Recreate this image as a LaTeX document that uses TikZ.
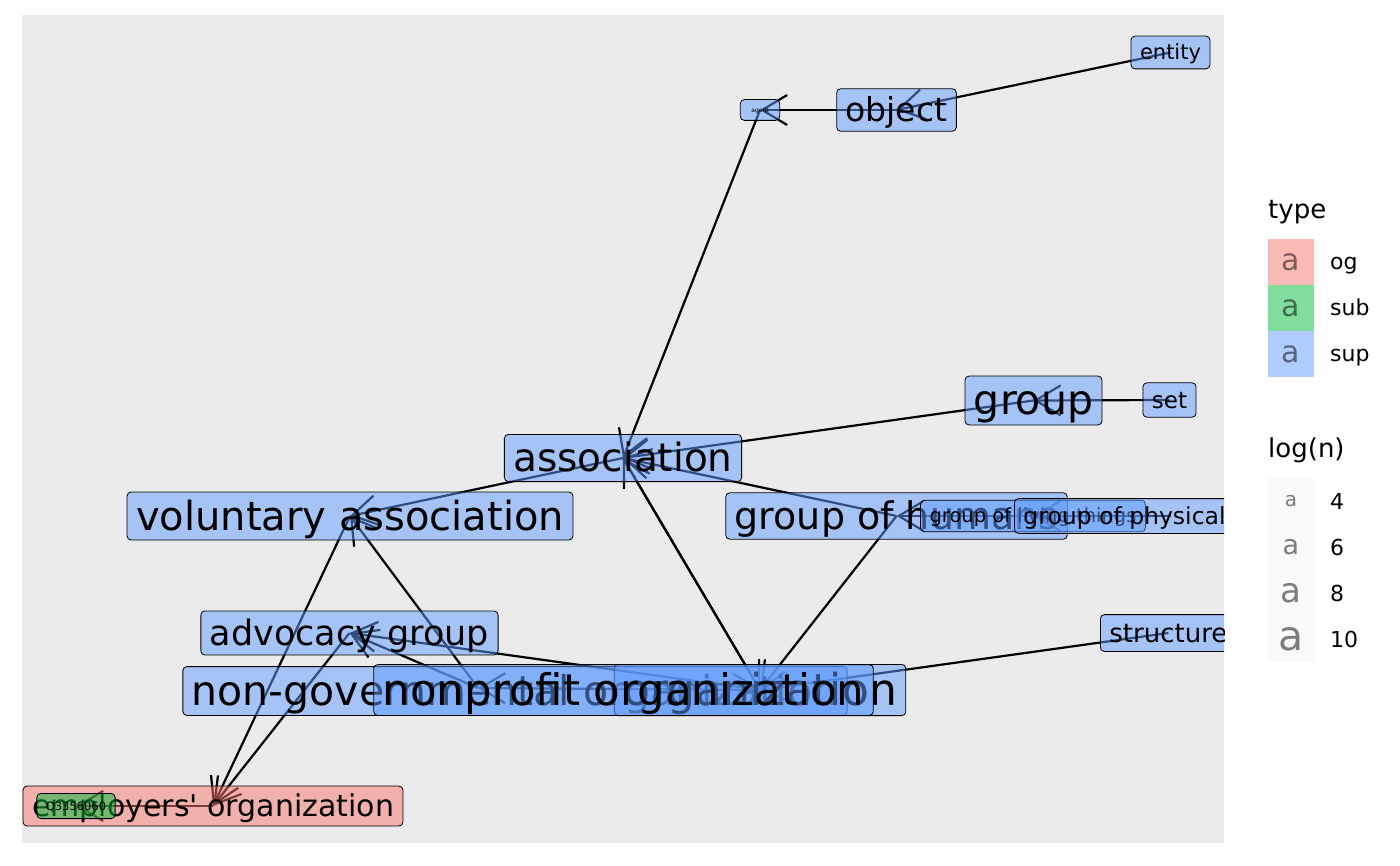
\documentclass[tikz,border=0pt]{standalone}
\usepackage{fontspec}
\setmainfont{DejaVu Sans}[Ligatures=TeXOff]
\usetikzlibrary{arrows.meta,backgrounds}
\definecolor{ogcol}{HTML}{F8766D}
\definecolor{subcol}{HTML}{00BA38}
\definecolor{supcol}{HTML}{619CFF}
\definecolor{panelcol}{HTML}{EBEBEB}

\begin{document}
\begin{tikzpicture}
		[x=1pt,y=-1pt,
		lbl/.style={draw=black,line width=0.8pt,rounded corners=4pt,
			fill opacity=0.5,text opacity=1,inner xsep=9pt,inner ysep=8pt,
			font=\fontsize{#1}{#1}\selectfont,text height=0.75*#1pt,text depth=0.05*#1pt},
		sup/.style={lbl=#1,fill=supcol},
		og/.style={lbl=#1,fill=ogcol},
		sub/.style={lbl=#1,fill=subcol},
		edge/.style={draw,line width=2.2pt,-{Straight Barb[length=25pt,width=30pt]}},
		keybox/.style={minimum width=46pt,minimum height=46pt,inner sep=0pt,
			text opacity=0.5,font=\fontsize{#1}{#1}\selectfont},
		keytext/.style={anchor=base west,inner sep=0pt,font=\fontsize{22}{22}\selectfont},
		keytitle/.style={anchor=base west,inner sep=0pt,font=\fontsize{26}{26}\selectfont}]
		\useasboundingbox (0,0) rectangle (1400,866);
		% labels, clipped to the panel
		\begin{scope}
			\clip (22,15) rectangle (1224,843);
			\node[sup=21] (entity) at (1170.5,52.5) {entity};
			\node[sup=33] (object) at (896.5,110) {object};
			\node[sup=6,inner xsep=11pt] (agent) at (760,110) {agent};
			\node[sup=41] (group) at (1033.5,400.5) {group};
			\node[sup=23] (set) at (1169.5,400) {set};
			\node[sup=39] (association) at (623,458) {association};
			\node[sup=40] (voluntary) at (350,516) {voluntary association};
			\node[sup=38] (humans) at (896.5,516) {group of humans};
			\node[sup=19.5] (living) at (1033,516) {group of living things};
			\node[sup=23.5,anchor=west] (physical) at (1014,516) {group of physical objects};
			\node[sup=26,anchor=west] (structure) at (1100,633) {structure};
			\node[sup=35] (advocacy) at (349.5,633) {advocacy group};
			\node[sup=41] (ngo) at (515,691) {non-governmental organization};
			\node[sup=44] (organization) at (760,690) {organization};
			\node[sup=43.5] (nonprofit) at (623.5,690) {nonprofit organization};
			\node[og=30] (employers) at (213,806) {employers' organization};
			\node[sub=11.5] (q3356060) at (76,806) {Q3356060};
			\coordinate (ngopt) at (478,688);
		\end{scope}
		\begin{pgfonlayer}{background}
			\fill[white] (0,0) rectangle (1400,866);
			\fill[panelcol] (22,15) rectangle (1224,843);
			\draw[edge] (entity.center) -- (object.center);
			\draw[edge] (object.center) -- (agent.center);
			\draw[edge] (agent.center) -- (association.center);
			\draw[edge] (group.center) -- (association.center);
			\draw[edge] (set.center) -- (group.center);
			\draw[edge] (humans.center) -- (association.center);
			\draw[edge] (living.center) -- (humans.center);
			\draw[edge] (physical.center) -- (living.center);
			\draw[edge] (association.center) -- (voluntary.center);
			\draw[edge] (ngopt) -- (voluntary.center);
			\draw[edge] (voluntary.center) -- (employers.center);
			\draw[edge] (advocacy.center) -- (employers.center);
			\draw[edge] (employers.center) -- (q3356060.center);
			\draw[edge] (ngopt) -- (advocacy.center);
			\draw[edge] (organization.center) -- (advocacy.center);
			\draw[edge] (organization.center) -- (association.center);
			\draw[edge] (association.center) -- (organization.center);
			\draw[edge] (humans.center) -- (organization.center);
			\draw[edge] (structure.center) -- (organization.center);
			\draw[edge] (organization.center) -- (ngopt);
		\end{pgfonlayer}
		% legend
		\node[keytitle] (typetitle) at (1268,219) {type};
		\node[keybox=30,fill=ogcol!50] (keyog) at (1291,262) {a};
		\node[keybox=30,fill=subcol!50] (keysub) at (1291,308) {a};
		\node[keybox=30,fill=supcol!50] (keysup) at (1291,354) {a};
		\node[keytext] (txtog) at (1330,270) {og};
		\node[keytext] (txtsub) at (1330,316) {sub};
		\node[keytext] (txtsup) at (1330,362) {sup};
		\node[keytitle] (logtitle) at (1268,457) {log(n)};
		\node[keybox=20,fill=gray!5] (keyfour) at (1291,501) {a};
		\node[keybox=27,fill=gray!5] (keysix) at (1291,547) {a};
		\node[keybox=34,fill=gray!5] (keyeight) at (1291,593) {a};
		\node[keybox=41,fill=gray!5] (keyten) at (1291,639) {a};
		\node[keytext] (txtfour) at (1330,509) {4};
		\node[keytext] (txtsix) at (1330,555) {6};
		\node[keytext] (txteight) at (1330,601) {8};
		\node[keytext] (txtten) at (1330,647) {10};
\end{tikzpicture}
\end{document}
